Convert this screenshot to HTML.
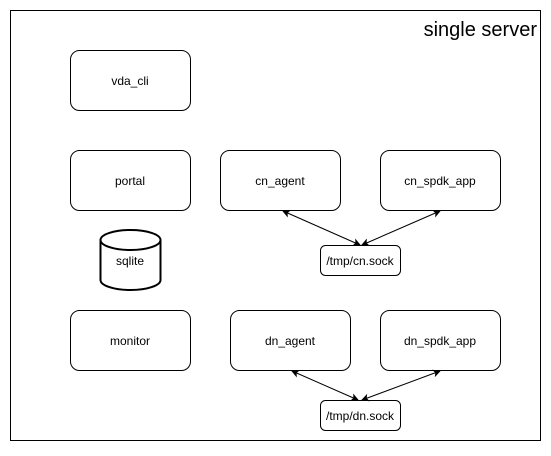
<!DOCTYPE html>
<html><head><style>body{margin:0;background:#fff}</style></head><body>
<svg width="551" height="451" xmlns="http://www.w3.org/2000/svg" font-family="Liberation Sans, sans-serif" font-size="12">
<defs><marker id="a" markerWidth="8" markerHeight="8" refX="7" refY="4" orient="auto-start-reverse" markerUnits="userSpaceOnUse"><path d="M0,0 L8,4 L0,8 L2,4z" fill="#000"/></marker></defs>
<rect x="10.5" y="10.5" width="530" height="430" fill="#fff" stroke="#000"/>
<text x="537" y="36" font-size="20" text-anchor="end">single server</text>
<g fill="#fff" stroke="#000">
<rect x="70.5" y="50.5" width="120" height="60" rx="9"/>
<rect x="70.5" y="150.5" width="120" height="60" rx="9"/>
<rect x="220.5" y="150.5" width="120" height="60" rx="9"/>
<rect x="380.5" y="150.5" width="120" height="60" rx="9"/>
<rect x="320.5" y="245.5" width="80" height="30" rx="5"/>
<rect x="70.5" y="310.5" width="120" height="60" rx="9"/>
<rect x="230.5" y="310.5" width="120" height="60" rx="9"/>
<rect x="380.5" y="310.5" width="120" height="60" rx="9"/>
<rect x="320.5" y="400.5" width="80" height="30" rx="5"/>
<path d="M100.5,240 L100.5,280 A30,10 0 0 0 160.5,280 L160.5,240 A30,10 0 0 0 100.5,240 A30,10 0 0 0 160.5,240" stroke-width="2"/>
</g>
<g stroke="#000" marker-start="url(#a)" marker-end="url(#a)">
<line x1="283" y1="211" x2="360" y2="245"/>
<line x1="440" y1="211" x2="362" y2="245"/>
<line x1="292" y1="371" x2="358" y2="400"/>
<line x1="440" y1="371" x2="362" y2="400"/>
</g>
<g text-anchor="middle">
<text x="130" y="85">vda_cli</text>
<text x="130" y="185">portal</text>
<text x="280" y="185">cn_agent</text>
<text x="440" y="185">cn_spdk_app</text>
<text x="360" y="265">/tmp/cn.sock</text>
<text x="130" y="265">sqlite</text>
<text x="130" y="345">monitor</text>
<text x="290" y="345">dn_agent</text>
<text x="440" y="345">dn_spdk_app</text>
<text x="360" y="420">/tmp/dn.sock</text>
</g>
</svg>
</body></html>
